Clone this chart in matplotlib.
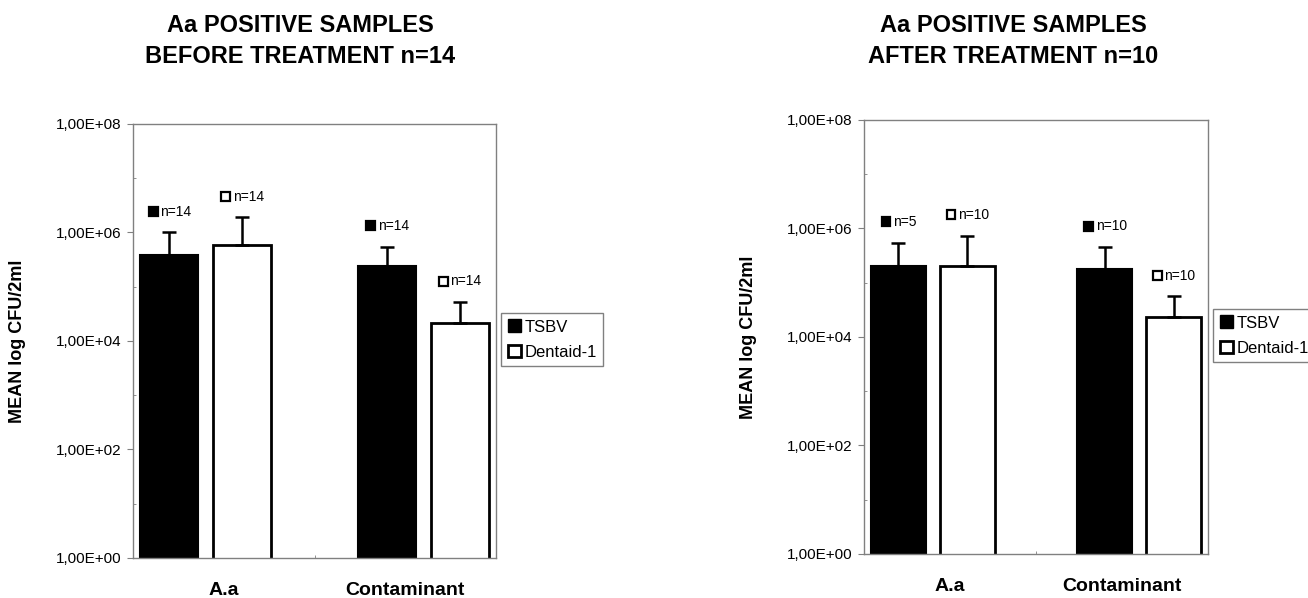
import numpy as np
import matplotlib
matplotlib.use("Agg")
import matplotlib.pyplot as plt
from matplotlib.patches import Patch, Rectangle
from matplotlib.offsetbox import DrawingArea, TextArea, HPacker, AnnotationBbox

plt.rcParams['font.family'] = ['Liberation Sans', 'DejaVu Sans']

# data (mean CFU / 2ml, and SD above the mean)
categories = ['A.a', 'Contaminant']
series = ['TSBV', 'Dentaid-1']

before_tsbv = [3.8e5, 2.4e5]
before_tsbv_sd = [6.2e5, 3.1e5]
before_dent = [6.0e5, 2.1e4]
before_dent_sd = [1.3e6, 3.1e4]
before_tsbv_n = ['n=14', 'n=14']
before_dent_n = ['n=14', 'n=14']

after_tsbv = [2.0e5, 1.8e5]
after_tsbv_sd = [3.5e5, 2.7e5]
after_dent = [2.0e5, 2.3e4]
after_dent_sd = [5.4e5, 3.3e4]
after_tsbv_n = ['n=5', 'n=10']
after_dent_n = ['n=10', 'n=10']

yticks = [1e0, 1e2, 1e4, 1e6, 1e8]
ytick_labels = ['1,00E+00', '1,00E+02', '1,00E+04', '1,00E+06', '1,00E+08']

GRAY = '#808080'


def n_label(ax, x, y, text, face):
    # small square + "n=.." text above the error bar
    da = DrawingArea(8, 8)
    da.add_artist(Rectangle((0.8, 0.8), 6.4, 6.4, facecolor=face,
                            edgecolor='black', linewidth=1.6))
    ta = TextArea(text, textprops=dict(fontsize=10))
    box = HPacker(children=[da, ta], align='center', pad=0, sep=1)
    ab = AnnotationBbox(box, (x, y), xybox=(0, 15), xycoords='data',
                        boxcoords='offset points', frameon=False,
                        box_alignment=(0.5, 0.5))
    ax.add_artist(ab)


def panel(ax, tsbv, tsbv_sd, dent, dent_sd, tsbv_n, dent_n):
    groups = np.array([0.4, 1.6])
    w = 0.32
    x1 = groups - 0.2
    x2 = groups + 0.2
    ax.set_yscale('log')
    ax.bar(x1, tsbv, w, color='black', edgecolor='black', linewidth=1.5,
           label=series[0], zorder=2)
    ax.bar(x2, dent, w, color='white', edgecolor='black', linewidth=2,
           label=series[1], zorder=2)
    ax.errorbar(x1, tsbv, yerr=[np.zeros(2), tsbv_sd], fmt='none',
                ecolor='black', elinewidth=1.8, capsize=5, capthick=1.8, zorder=3)
    ax.errorbar(x2, dent, yerr=[np.zeros(2), dent_sd], fmt='none',
                ecolor='black', elinewidth=1.8, capsize=5, capthick=1.8, zorder=3)
    for i in range(2):
        n_label(ax, x1[i], tsbv[i] + tsbv_sd[i], tsbv_n[i], 'black')
        n_label(ax, x2[i], dent[i] + dent_sd[i], dent_n[i], 'white')

    ax.set_xlim(0, 2)
    ax.set_ylim(1, 1e8)
    ax.set_yticks(yticks)
    ax.set_yticklabels(ytick_labels, fontsize=11)
    ax.set_yticks([1e1, 1e3, 1e5, 1e7], minor=True)
    ax.yaxis.set_minor_formatter(plt.NullFormatter())
    ax.tick_params(axis='y', which='major', length=4, color=GRAY, pad=4)
    ax.tick_params(axis='y', which='minor', length=2, direction='in', color=GRAY)
    ax.set_xticks([0.5, 1.5])
    ax.set_xticklabels(categories, fontsize=14, fontweight='bold')
    ax.set_xticks([1.0], minor=True)
    ax.tick_params(axis='x', which='major', length=0, pad=17)
    ax.tick_params(axis='x', which='minor', length=2, direction='in', color=GRAY)
    ax.set_ylabel('MEAN log CFU/2ml', fontsize=13, fontweight='bold', labelpad=22)
    for s in ax.spines.values():
        s.set_color(GRAY)
        s.set_linewidth(1)
    ax.spines['right'].set_linestyle((0, (2, 1)))

    handles = [Patch(facecolor='black', edgecolor='black'),
               Patch(facecolor='white', edgecolor='black', linewidth=2)]
    leg = ax.legend(handles, series, loc='upper left', bbox_to_anchor=(1.014, 0.565),
                    borderaxespad=0, fontsize=12, handlelength=0.8, handleheight=0.8,
                    handletextpad=0.2, labelspacing=0.6, borderpad=0.4,
                    fancybox=False, edgecolor=GRAY, framealpha=1)
    leg.get_frame().set_linewidth(1)


fig = plt.figure(figsize=(13.08, 5.98), dpi=100)
ax1 = fig.add_axes([0.1017, 0.0669, 0.2775, 0.7258])
ax2 = fig.add_axes([0.6606, 0.0736, 0.263, 0.7258])

panel(ax1, before_tsbv, before_tsbv_sd, before_dent, before_dent_sd,
      before_tsbv_n, before_dent_n)
panel(ax2, after_tsbv, after_tsbv_sd, after_dent, after_dent_sd,
      after_tsbv_n, after_dent_n)

fig.text(300 / 1308, 1 - 32 / 598, 'Aa POSITIVE SAMPLES', ha='center', va='baseline',
         fontsize=17, fontweight='bold')
fig.text(300 / 1308, 1 - 63 / 598, 'BEFORE TREATMENT n=14', ha='center', va='baseline',
         fontsize=17, fontweight='bold')
fig.text(1013 / 1308, 1 - 32 / 598, 'Aa POSITIVE SAMPLES', ha='center', va='baseline',
         fontsize=17, fontweight='bold')
fig.text(1013 / 1308, 1 - 63 / 598, 'AFTER TREATMENT n=10', ha='center', va='baseline',
         fontsize=17, fontweight='bold')

fig.savefig('out.png', dpi=100)
